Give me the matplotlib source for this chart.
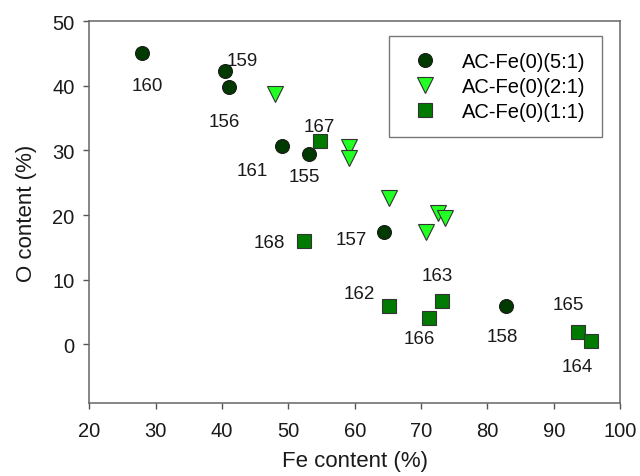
import numpy as np
import matplotlib
matplotlib.use('Agg')
import matplotlib.pyplot as plt

plt.rcParams['font.family'] = ['Liberation Sans', 'DejaVu Sans']

# AC-Fe(0)(5:1)
fe_51 = [28.0, 40.4, 41.0, 49.0, 53.1, 64.4, 82.8]
o_51 = [45.1, 42.3, 39.8, 30.7, 29.4, 17.3, 5.9]
# AC-Fe(0)(2:1)
fe_21 = [48.0, 59.1, 59.2, 65.1, 72.5, 73.6, 70.8]
o_21 = [38.8, 30.5, 28.8, 22.6, 20.3, 19.5, 17.4]
# AC-Fe(0)(1:1)
fe_11 = [54.7, 52.4, 65.1, 73.2, 71.2, 93.6, 95.6]
o_11 = [31.4, 16.0, 5.9, 6.7, 4.1, 1.9, 0.5]

# sample labels and where they sit
labels = ['160', '159', '156', '167', '161', '155', '157', '168',
          '162', '163', '166', '158', '165', '164']
label_x = [28.8, 43.1, 40.3, 54.6, 44.5, 52.4, 59.5, 47.1,
           60.7, 72.4, 69.8, 82.2, 92.2, 93.6]
label_y = [40.0, 43.9, 34.5, 33.7, 26.9, 25.9, 16.2, 15.8,
           7.9, 10.7, 0.8, 1.2, 6.1, -3.4]

fig = plt.figure(figsize=(6.4, 4.77), dpi=100)
ax = fig.add_axes([0.1395, 0.152, 0.8295, 0.801])

ax.plot(fe_51, o_51, 'o', color='#003a00', mec='#1a1a1a', mew=0.8,
        ms=10, label='AC-Fe(0)(5:1)')
ax.plot(fe_21, o_21, 'v', color='#22ff22', mec='#333333', mew=0.8,
        ms=11, label='AC-Fe(0)(2:1)')
ax.plot(fe_11, o_11, 's', color='#007a00', mec='#333333', mew=0.8,
        ms=10, label='AC-Fe(0)(1:1)')

for t, x, y in zip(labels, label_x, label_y):
    ax.text(x, y, t, fontsize=13.5, ha='center', va='center', color='#1a1a1a')

ax.set_xlim(20, 100)
ax.set_ylim(-9.2, 50)
ax.set_xticks(np.arange(20, 101, 10))
ax.set_yticks(np.arange(0, 51, 10))
ax.tick_params(direction='out', length=4.5, width=1, colors='#555555',
               labelcolor='#1a1a1a', labelsize=14.5)
ax.tick_params(axis='x', pad=8)
ax.tick_params(axis='y', pad=6)
ax.tick_params(top=False, right=False)
for s in ax.spines.values():
    s.set_color('#666666')
    s.set_linewidth(1.1)

ax.set_xlabel('Fe content (%)', fontsize=16, color='#1a1a1a', labelpad=7)
ax.set_ylabel('O content (%)', fontsize=16, color='#1a1a1a', labelpad=11)

leg = ax.legend(loc='upper right', bbox_to_anchor=(602 / 640, 1 - 37 / 477),
                bbox_transform=fig.transFigure, borderaxespad=0,
                fontsize=14.5, frameon=True, fancybox=False,
                edgecolor='#555555', handletextpad=0.85, borderpad=0.8,
                labelspacing=0.3, handlelength=2.0)
leg.get_frame().set_linewidth(1.0)

fig.savefig('out.png', dpi=100)
